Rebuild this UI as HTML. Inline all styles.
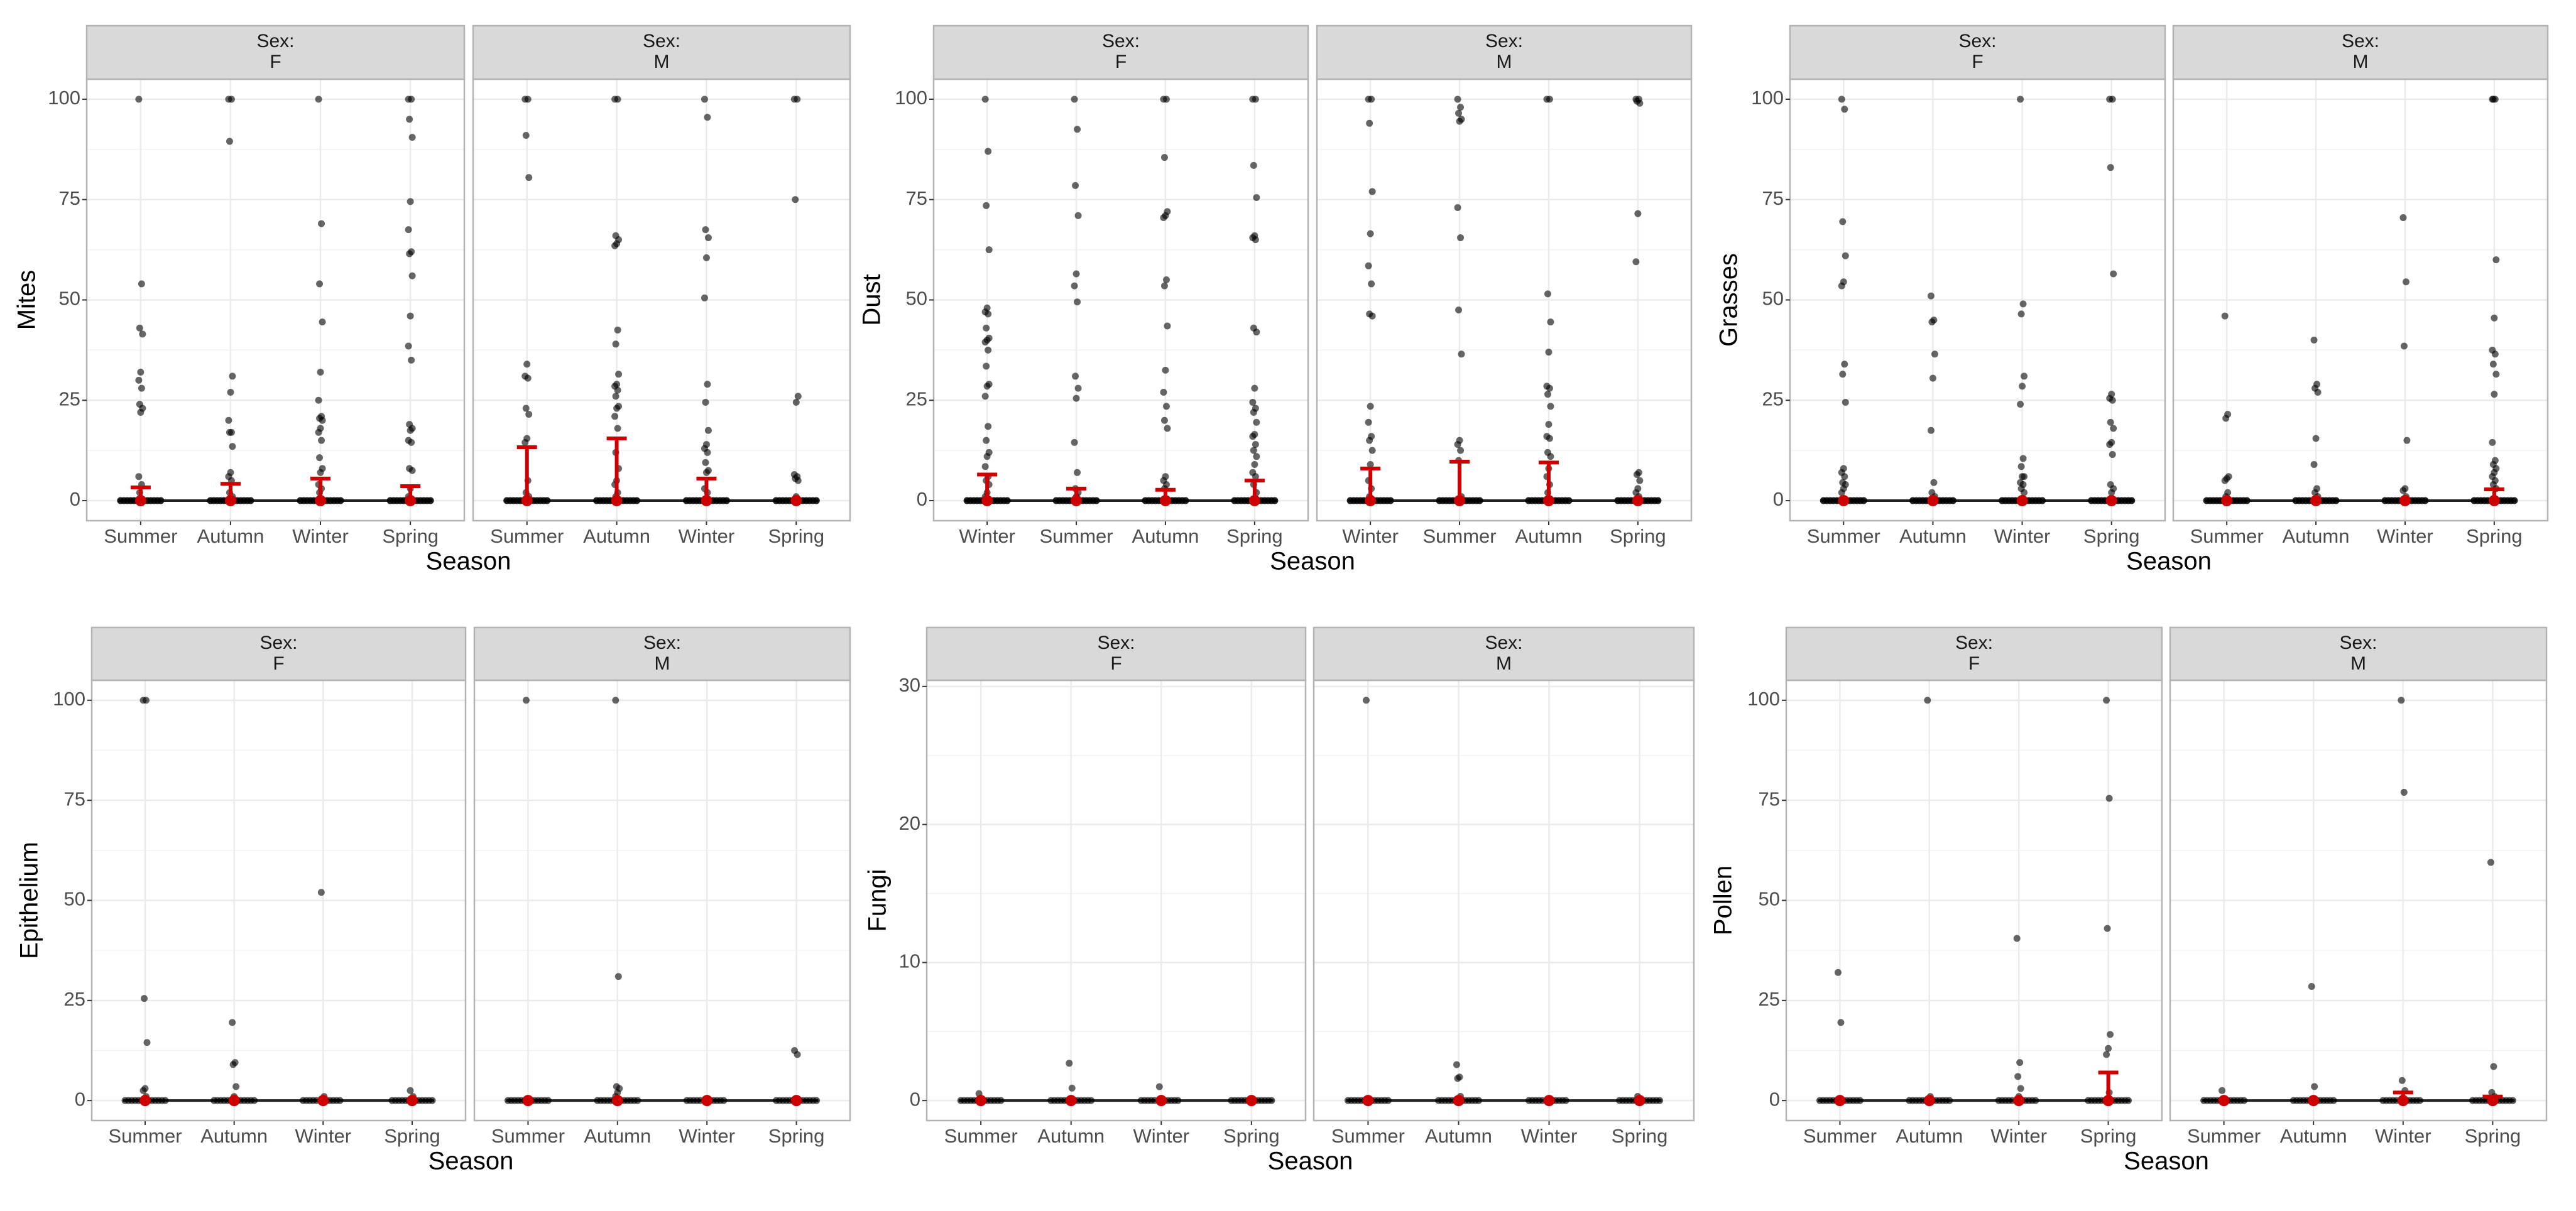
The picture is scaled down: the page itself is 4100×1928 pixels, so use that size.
<!DOCTYPE html>
<html><head><meta charset="utf-8"><style>
html,body{margin:0;padding:0;background:#fff;}
svg{display:block;font-family:"Liberation Sans",sans-serif;}
</style></head><body>
<svg id="chart" width="4100" height="1928" viewBox="0 0 4100 1928"></svg>
<script>
const seasonsA=["Summer","Autumn","Winter","Spring"];
const seasonsDust=["Winter","Summer","Autumn","Spring"];
const ticks100=[0,25,50,75,100];
const ticks30=[0,10,20,30];

const mitesF=[[100,54,43,41.5,32,30,28,24,23,22,6,4,2],[100,100,89.5,31,27,20,17,17,13.5,7,6,5,2,1],[100,69,54,44.5,32,25,21,20.5,20,18,17,15,10.7,8,7,4,3,2],[100,100,95,90.5,74.5,67.5,62,61.5,56,46,38.5,35,19,18,17.5,15,14.5,8,7.5,3,1]];
const mitesM=[[100,100,91,80.5,34,31,30.5,23,21.5,15.5,14.5,5,2,1],[100,100,66,65,64,63.5,42.5,39,31.5,29,28.5,27.5,26,23.5,23,21,18,12,8,5,4,2,1],[100,95.5,67.5,65.5,60.5,50.5,29,24.5,17.5,14,13,12,9.5,7.5,7,3,2],[100,100,75,26,24.5,6.5,6,5.5,5,1]];
const mitesFErr=[3.3,4.2,5.5,3.6];
const mitesMErr=[13.3,15.5,5.5,0.5];

const dustF=[[100,87,73.5,62.5,48,47,46.5,43,40.5,40,39.5,37.5,33.5,29,28.5,26,18.5,15,12,11,8.5,6,5,4,2,1],[100,92.5,78.5,71,56.5,53.5,49.5,31,28,25.5,14.5,7,3,2,1],[100,100,85.5,72,71,70.5,55,53.5,43.5,32.5,27,23.5,20,18,6,5,4,3],[100,100,83.5,75.5,66,65.5,65,43,42,28,24.5,23,22,19.5,16.5,16,14,12.5,11,9,7,6,4,2]];
const dustM=[[100,100,94,77,66.5,58.5,54,46.5,46,23.5,19.5,16,15,12.5,9,5,3,1],[100,98,96.5,95,94.5,73,65.5,47.5,36.5,15,14,12.5,10,1],[100,100,51.5,44.5,37,28.5,28,26.5,23.5,19,16,15.5,12,11,8,6,4,2],[100,100,99.5,99,71.5,59.5,7,6.5,5,3,2,1]];
const dustFErr=[6.5,3,2.7,5];
const dustMErr=[8,9.7,9.5,0.5];

const grassF=[[100,97.5,69.5,61,54.5,53.5,34,31.5,24.5,8,7,6,4.5,4,3,2],[51,45,44.5,36.5,30.5,17.5,4.5,2,1],[100,49,46.5,31,28.5,24,10.5,8.5,6,6,4.5,4,3,2],[100,100,83,56.5,26.5,25.5,25,19.5,18,14.5,14,11.5,4,3,2]];
const grassM=[[46,21.5,20.5,6,5.5,5,2,1],[40,29,28,27,15.5,9,3,2,1],[70.5,54.5,38.5,15,3,2.5,1],[100,100,100,60,45.5,37.5,36.5,34,31.5,26.5,14.5,10,9,8,7,6,5,4,3]];
const grassFErr=[0,0,0,0];
const grassMErr=[0,0,0,2.8];

const epiF=[[100,100,25.5,14.5,3,2.5,1],[19.5,9.5,9,3.5,1],[52,1],[2.5,1]];
const epiM=[[100],[100,31,3.5,3,2,1],[],[12.5,11.5]];
const epiFErr=[0,0,0,0];
const epiMErr=[0,0,0,0];

const fungiF=[[0.5],[2.7,0.9],[1],[]];
const fungiM=[[29],[2.6,1.7,1.6,0.3],[],[0.3]];
const fungiFErr=[0,0,0,0];
const fungiMErr=[0,0,0,0];

const pollenF=[[32,19.5],[100,1],[40.5,9.5,6,3,1],[100,75.5,43,16.5,13,11.5,2]];
const pollenM=[[2.5],[28.5,3.5],[100,77,5,2.5],[59.5,8.5,2,1]];
const pollenFErr=[0,0,0,7];
const pollenMErr=[0,0,2,1];

const zeroCountsTop=[26,26,26,26];
const zeroCountsBottom=[12,12,10,12];

const NS="http://www.w3.org/2000/svg";
const svg=document.getElementById('chart');
function mk(tag,attrs,parent){const e=document.createElementNS(NS,tag);for(const k in attrs)e.setAttribute(k,attrs[k]);(parent||svg).appendChild(e);return e;}

const panels=[
 {key:"mites",title:"Mites",cats:seasonsA,F:mitesF,M:mitesM,FE:mitesFErr,ME:mitesMErr,ymax:100,ticks:ticks100,fx:[138,739],mx:[753,1353],row:0,ylabX:45,zc:zeroCountsTop},
 {key:"dust",title:"Dust",cats:seasonsDust,F:dustF,M:dustM,FE:dustFErr,ME:dustMErr,ymax:100,ticks:ticks100,fx:[1486,2082],mx:[2096,2692],row:0,ylabX:1390,zc:zeroCountsTop},
 {key:"grasses",title:"Grasses",cats:seasonsA,F:grassF,M:grassM,FE:grassFErr,ME:grassMErr,ymax:100,ticks:ticks100,fx:[2849,3446],mx:[3459,4055],row:0,ylabX:2754,zc:zeroCountsTop},
 {key:"epithelium",title:"Epithelium",cats:seasonsA,F:epiF,M:epiM,FE:epiFErr,ME:epiMErr,ymax:100,ticks:ticks100,fx:[146,741],mx:[755,1353],row:1,ylabX:49,zc:zeroCountsBottom},
 {key:"fungi",title:"Fungi",cats:seasonsA,F:fungiF,M:fungiM,FE:fungiFErr,ME:fungiMErr,ymax:29,ticks:ticks30,fx:[1475,2078],mx:[2091,2696],row:1,ylabX:1399,zc:zeroCountsBottom},
 {key:"pollen",title:"Pollen",cats:seasonsA,F:pollenF,M:pollenM,FE:pollenFErr,ME:pollenMErr,ymax:100,ticks:ticks100,fx:[2843,3441],mx:[3454,4053],row:1,ylabX:2745,zc:zeroCountsBottom}
];
const rows=[{stripTop:41,panelTop:126,panelBot:829,tickY:856,seasonY:896},{stripTop:999,panelTop:1083,panelBot:1784,tickY:1811,seasonY:1851}];

panels.forEach(p=>{
  const r=rows[p.row];
  const g=mk('g',{});
  
  
  const lo=-p.ymax*0.05, hi=p.ymax*1.05;
  const yS=v=>r.panelBot-(v-lo)/(hi-lo)*(r.panelBot-r.panelTop);
  [['F',p.fx,p.F,p.FE],['M',p.mx,p.M,p.ME]].forEach(([sex,xr,data,errs],si)=>{
    const [x0,x1]=xr;
    const xS=i=>x0+(i+0.6)/4.2*(x1-x0);
    const fg=mk('g',{},g);
    
    
    mk('rect',{x:x0,y:r.panelTop,width:x1-x0,height:r.panelBot-r.panelTop,fill:'#fff'},fg);
    // minor grid
    for(let k=0;k<p.ticks.length-1;k++){const mv=(p.ticks[k]+p.ticks[k+1])/2;const y=yS(mv);mk('line',{x1:x0,x2:x1,y1:y,y2:y,stroke:'#f2f2f2','stroke-width':1.5},fg);}
    p.ticks.forEach(t=>{const y=yS(t);mk('line',{x1:x0,x2:x1,y1:y,y2:y,stroke:'#ebebeb','stroke-width':2.5},fg);});
    p.cats.forEach((c,i)=>{mk('line',{x1:xS(i),x2:xS(i),y1:r.panelTop,y2:r.panelBot,stroke:'#ebebeb','stroke-width':2.5},fg);});
    // baseline line
    const base=mk('line',{x1:xS(0)-35,x2:xS(3)+35,y1:yS(0),y2:yS(0),stroke:'#222','stroke-width':4},fg);
    
    
    data.forEach((vals,i)=>{
      const cx=xS(i);
      const nz=p.zc[i];
      for(let k=0;k<nz;k++){
        const dx=(((k*7)%13)-6)/6*32;
        const d=mk('circle',{cx:cx+dx,cy:yS(0),r:5.5,fill:'rgba(0,0,0,0.65)'},fg);
        
        
      }
      vals.forEach((v,k)=>{
        const dx=(((k*3)%5)-2)*1.5;
        const d=mk('circle',{cx:cx+dx,cy:yS(v),r:5.5,fill:'rgba(0,0,0,0.6)'},fg);
        
        
      });
      const e=errs[i];
      if(e>0.8){
        const eb=mk('path',{d:`M${cx},${yS(0)}V${yS(e)}M${cx-16},${yS(e)}H${cx+16}`,stroke:'#cc0000','stroke-width':6,fill:'none'},fg);
        
        
      }
      const m=mk('circle',{cx:cx,cy:yS(0),r:9,fill:'#cc0000'},fg);
      
      
      // x tick & label
      mk('line',{x1:cx,x2:cx,y1:r.panelBot,y2:r.panelBot+7,stroke:'#333','stroke-width':2},fg);
      const t=mk('text',{x:cx,y:r.tickY,'text-anchor':'middle','dominant-baseline':'middle','font-size':31,fill:'#4d4d4d'},fg);
      t.textContent=p.cats[i];
      
      
    });
    mk('rect',{x:x0,y:r.panelTop,width:x1-x0,height:r.panelBot-r.panelTop,fill:'none',stroke:'#b3b3b3','stroke-width':2.5},fg);
    // strip
    const st=mk('rect',{x:x0,y:r.stripTop,width:x1-x0,height:r.panelTop-r.stripTop,fill:'#d9d9d9',stroke:'#b3b3b3','stroke-width':2.5},fg);
    
    
    const cxm=(x0+x1)/2;
    const s1=mk('text',{x:cxm,y:r.stripTop+26,'text-anchor':'middle','dominant-baseline':'middle','font-size':30,fill:'#1a1a1a'},fg);
    s1.textContent='Sex:';
    
    
    const s2=mk('text',{x:cxm,y:r.stripTop+59,'text-anchor':'middle','dominant-baseline':'middle','font-size':30,fill:'#1a1a1a'},fg);
    s2.textContent=sex;
    
    
    if(si===0){
      p.ticks.forEach(tv=>{
        const y=yS(tv);
        mk('line',{x1:x0-7,x2:x0,y1:y,y2:y,stroke:'#333','stroke-width':2},g);
        const tl=mk('text',{x:x0-10,y:y,'text-anchor':'end','dominant-baseline':'middle','font-size':31,fill:'#4d4d4d'},g);
        tl.textContent=tv;
        
        
      });
    }
  });
  const yl=mk('text',{x:p.ylabX,y:(r.panelTop+r.panelBot)/2,'text-anchor':'middle','dominant-baseline':'middle','font-size':40,fill:'#000',transform:`rotate(-90 ${p.ylabX} ${(r.panelTop+r.panelBot)/2})`},g);
  yl.textContent=p.title;
  
  
  const xl=mk('text',{x:(p.fx[0]+p.mx[1])/2,y:r.seasonY,'text-anchor':'middle','dominant-baseline':'middle','font-size':40,fill:'#000'},g);
  xl.textContent='Season';
  
  
});
</script>
</body></html>
